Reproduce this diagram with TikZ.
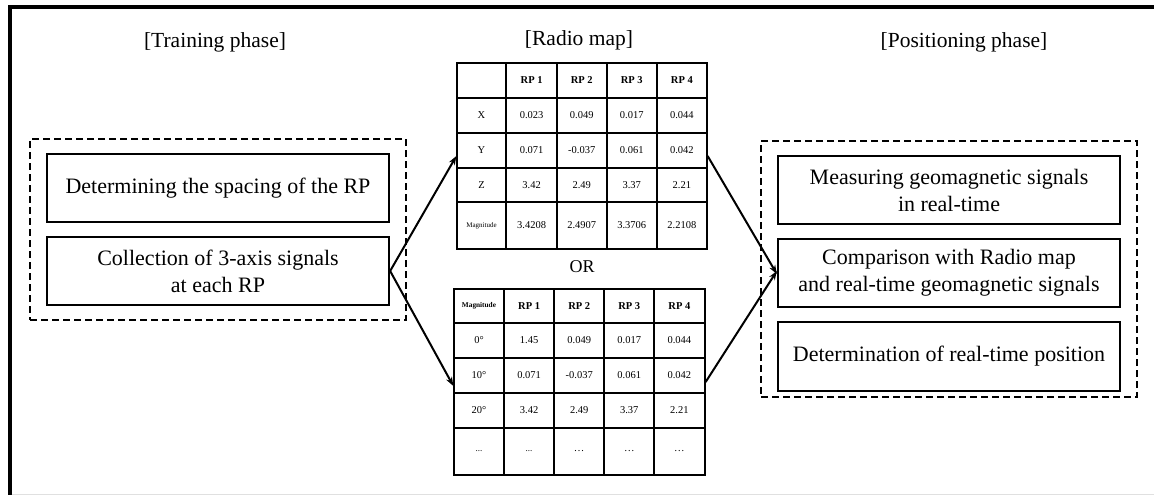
\documentclass[tikz,border=0pt]{standalone}
\usepackage{fontspec}
\setmainfont{Liberation Serif}
\usetikzlibrary{arrows.meta}
\begin{document}
\begin{tikzpicture}[x=1pt,y=-1pt,
  stepbox/.style={draw, line width=2.3pt, minimum width=342pt, minimum height=68pt, inner sep=0pt, align=center, font=\fontsize{22}{27}\selectfont},
  groupbox/.style={draw, dash pattern=on 7pt off 4pt, line width=2.5pt, inner sep=0pt},
  phasetitle/.style={font=\fontsize{21.5}{25}\selectfont, inner sep=0pt},
  tablebox/.style={draw, line width=1.3pt, inner sep=0pt},
  gridline/.style={line width=1.3pt},
  cell/.style={font=\fontsize{10.5}{12}\selectfont, inner sep=0pt},
  hcell/.style={font=\fontsize{10.5}{12}\selectfont\bfseries, inner sep=0pt},
  tinycell/.style={font=\fontsize{7}{8}\selectfont, inner sep=0pt},
  conn/.style={-{Stealth[length=9pt,width=6.5pt]}, line width=2pt}
]
\useasboundingbox (0,0) rectangle (1154,495);
% outer frame
\draw[line width=4pt] (9.7,495) -- (9.7,7.2) -- (1154,7.2);
\draw[line width=1pt, black!12] (11.7,494) -- (1154,494);

% titles
\node[phasetitle] (ttrain) at (215,42) {[Training phase]};
\node[phasetitle] (tradio) at (579,40) {[Radio map]};
\node[phasetitle] (tpos) at (964,42) {[Positioning phase]};

% training phase
\node[groupbox, minimum width=376pt, minimum height=181pt] (gtrain) at (218,229.5) {};
\node[stepbox] (b1) at (218,188) {Determining the spacing of the RP};
\node[stepbox] (b2) at (218,271) {Collection of 3-axis signals\\at each RP};

% positioning phase
\node[groupbox, minimum width=376pt, minimum height=256pt] (gpos) at (949,269) {};
\node[stepbox] (pA) at (949,190) {Measuring geomagnetic signals\\in real-time};
\node[stepbox] (pB) at (949,273) {Comparison with Radio map\\and real-time geomagnetic signals};
\node[stepbox, minimum height=69pt] (pC) at (949,356.5) {Determination of real-time position};

% table 1
\node[tablebox, minimum width=250pt, minimum height=186pt] (t1) at (582,156) {};
\foreach \xx in {506,557,607,657} \draw[gridline] (\xx,63) -- (\xx,249);
\foreach \yy in {98,133,168,202} \draw[gridline] (457,\yy) -- (707,\yy);
\foreach \t [count=\c] in {RP 1,RP 2,RP 3,RP 4}
  \node[hcell] (t1h\c) at ({481.5+50.1*\c},80.5) {\t};
\foreach \t [count=\c from 0] in {X,0.023,0.049,0.017,0.044}
  \node[cell] (t1a\c) at ({481.5+50.1*\c},115.5) {\t};
\foreach \t [count=\c from 0] in {Y,0.071,-0.037,0.061,0.042}
  \node[cell] (t1b\c) at ({481.5+50.1*\c},150.5) {\t};
\foreach \t [count=\c from 0] in {Z,3.42,2.49,3.37,2.21}
  \node[cell] (t1c\c) at ({481.5+50.1*\c},185) {\t};
\node[tinycell] (t1d0) at (481.5,225.5) {Magnitude};
\foreach \t [count=\c] in {3.4208,2.4907,3.3706,2.2108}
  \node[cell] (t1d\c) at ({481.5+50.1*\c},225.5) {\t};

\node[font=\fontsize{18}{20}\selectfont, inner sep=0pt] (or) at (582,267) {OR};

% table 2
\node[tablebox, minimum width=251pt, minimum height=186pt] (t2) at (579.5,382) {};
\foreach \xx in {504,554,604,654} \draw[gridline] (\xx,289) -- (\xx,475);
\foreach \yy in {323,358,393,428} \draw[gridline] (454,\yy) -- (705,\yy);
\node[tinycell, font=\fontsize{7.3}{8}\selectfont\bfseries] (t2h0) at (479,306) {Magnitude};
\foreach \t [count=\c] in {RP 1,RP 2,RP 3,RP 4}
  \node[hcell] (t2h\c) at ({479+50.1*\c},306) {\t};
\foreach \t [count=\c from 0] in {0°,1.45,0.049,0.017,0.044}
  \node[cell] (t2a\c) at ({479+50.1*\c},340.5) {\t};
\foreach \t [count=\c from 0] in {10°,0.071,-0.037,0.061,0.042}
  \node[cell] (t2b\c) at ({479+50.1*\c},375.5) {\t};
\foreach \t [count=\c from 0] in {20°,3.42,2.49,3.37,2.21}
  \node[cell] (t2c\c) at ({479+50.1*\c},410.5) {\t};
\node[font=\fontsize{9}{10}\selectfont, inner sep=0pt] (t2d0) at (479,451.5) {...};
\node[font=\fontsize{9}{10}\selectfont, inner sep=0pt] (t2d1) at (529.1,451.5) {...};
\foreach \c in {2,3,4}
  \node[cell] (t2d\c) at ({479+50.1*\c},451.5) {…};

% connectors
\draw[conn] (b2.east) -- (t1.west);
\draw[conn] (b2.east) -- ([yshift=-4pt]t2.west);
\draw[conn] (t1.east) -- ([yshift=-1pt]pB.west);
\draw[conn] (t2.east) -- ([yshift=2pt]pB.west);
\end{tikzpicture}
\end{document}
